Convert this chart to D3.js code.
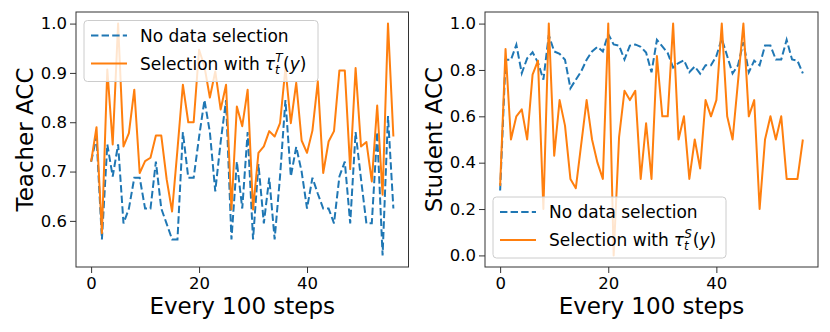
<!DOCTYPE html>
<html>
<head>
<meta charset="utf-8">
<script src="https://cdn.jsdelivr.net/npm/d3@7"></script>
<style>
  body { margin: 0; background: #fff; }
  svg { display: block; font-family: "DejaVu Sans", sans-serif; }
</style>
</head>
<body>
<svg id="chart" width="830" height="332"></svg>
<script>
// checkpoints, one every 100 steps
const xTicks = [0, 20, 40]
const teacherTicks = [0.6, 0.7, 0.8, 0.9, 1.0]
const studentTicks = [0.0, 0.2, 0.4, 0.6, 0.8, 1.0]
const seriesNames = ["No data selection", "Selection with"]

// teacher accuracy
const teacherNoSel = [0.72, 0.77, 0.5625, 0.755, 0.69, 0.755, 0.595, 0.625, 0.6875, 0.6875,
  0.625, 0.625, 0.72, 0.625, 0.594, 0.5625, 0.5625, 0.78, 0.6875, 0.6875,
  0.77, 0.845, 0.78, 0.66, 0.76, 0.845, 0.5625, 0.72, 0.625, 0.78,
  0.5625, 0.715, 0.595, 0.6875, 0.5625, 0.69, 0.845, 0.69, 0.75, 0.70,
  0.625, 0.6875, 0.655, 0.625, 0.625, 0.595, 0.69, 0.72, 0.595, 0.78,
  0.685, 0.595, 0.595, 0.78, 0.53, 0.8125, 0.625]
const teacherSel = [0.72, 0.79, 0.575, 0.907, 0.755, 1.0, 0.751, 0.778, 0.866, 0.697,
  0.721, 0.728, 0.773, 0.773, 0.684, 0.619, 0.745, 0.876, 0.80, 0.80,
  0.947, 0.913, 0.85, 0.903, 0.826, 0.876, 0.623, 0.832, 0.792, 0.866,
  0.623, 0.738, 0.751, 0.782, 0.771, 0.798, 0.910, 0.798, 0.880, 0.763,
  0.738, 0.783, 0.883, 0.697, 0.761, 0.782, 0.905, 0.905, 0.705, 0.910,
  0.751, 0.760, 0.680, 0.834, 0.653, 1.0, 0.771]

// student accuracy
const studentNoSel = [0.28, 0.844, 0.844, 0.909, 0.786, 0.85, 0.876, 0.832, 0.758, 0.95,
  0.88, 0.87, 0.844, 0.721, 0.758, 0.794, 0.844, 0.88, 0.90, 0.88,
  0.955, 0.91, 0.905, 0.845, 0.905, 0.91, 0.90, 0.875, 0.79, 0.93,
  0.902, 0.873, 0.81, 0.83, 0.842, 0.79, 0.815, 0.784, 0.82, 0.82,
  0.86, 0.935, 0.86, 0.785, 0.82, 0.92, 0.79, 0.84, 0.82, 0.905,
  0.905, 0.845, 0.845, 0.93, 0.845, 0.84, 0.785]
const studentSel = [0.30, 0.89, 0.50, 0.60, 0.63, 0.50, 0.78, 0.84, 0.20, 1.0,
  0.43, 0.67, 0.56, 0.33, 0.29, 0.48, 0.67, 0.50, 0.40, 0.33,
  1.0, 0.0, 0.51, 0.71, 0.67, 0.71, 0.33, 0.57, 0.33, 0.86,
  0.60, 0.60, 1.0, 0.50, 0.60, 0.33, 0.50, 0.375, 0.67, 0.60,
  0.67, 1.0, 0.60, 0.50, 0.75, 1.0, 0.60, 0.67, 0.20, 0.50,
  0.60, 0.50, 0.60, 0.33, 0.33, 0.33, 0.50]

const blue = "#1f77b4", orange = "#ff7f0e";
const frameColor = "#333";
const svg = d3.select("#chart");

// pad a domain by 5% like matplotlib does
function padded(ext){
  const p = (ext[1] - ext[0]) * 0.05;
  return [ext[0] - p, ext[1] + p];
}

function drawPanel(cfg){
  const n = cfg.noSel.length;
  const x = d3.scaleLinear().domain(padded([0, n - 1])).range([cfg.left, cfg.right]);
  const allVals = cfg.noSel.concat(cfg.sel);
  const y = d3.scaleLinear().domain(padded(d3.extent(allVals))).range([cfg.bottom, cfg.top]);

  const g = svg.append("g");

  const line = d3.line().x((d, i) => x(i)).y(d => y(d));

  g.append("path")
    .datum(cfg.noSel)
    .attr("d", line)
    .attr("fill", "none")
    .attr("stroke", blue)
    .attr("stroke-width", 2)
    .attr("stroke-dasharray", "7.4,3.2");

  g.append("path")
    .datum(cfg.sel)
    .attr("d", line)
    .attr("fill", "none")
    .attr("stroke", orange)
    .attr("stroke-width", 2)
    .attr("stroke-linejoin", "round");

  // axes
  const xAxis = g.append("g")
    .attr("transform", `translate(0,${cfg.bottom})`)
    .call(d3.axisBottom(x).tickValues(xTicks).tickSize(6).tickPadding(4).tickFormat(d3.format("d")));
  const yAxis = g.append("g")
    .attr("transform", `translate(${cfg.left},0)`)
    .call(d3.axisLeft(y).tickValues(cfg.yTicks).tickSize(6).tickPadding(3).tickFormat(d3.format(".1f")));
  [xAxis, yAxis].forEach(a => {
    a.select(".domain").remove();
    a.selectAll(".tick line").attr("stroke", frameColor).attr("stroke-width", 1);
    a.selectAll(".tick text").attr("fill", "#000").style("font-size", "16.5px").style("font-family", "DejaVu Sans");
  });

  // frame
  g.append("rect")
    .attr("x", cfg.left).attr("y", cfg.top)
    .attr("width", cfg.right - cfg.left).attr("height", cfg.bottom - cfg.top)
    .attr("fill", "none").attr("stroke", frameColor).attr("stroke-width", 1);

  // labels
  g.append("text")
    .attr("x", (cfg.left + cfg.right) / 2).attr("y", 314)
    .attr("text-anchor", "middle")
    .style("font-size", "23px")
    .text("Every 100 steps");
  g.append("text")
    .attr("transform", `translate(${cfg.left - 43},${(cfg.top + cfg.bottom) / 2}) rotate(-90)`)
    .attr("text-anchor", "middle")
    .style("font-size", "23px")
    .text(cfg.ylabel);

  // legend
  const lg = g.append("g").attr("transform", `translate(${cfg.legX},${cfg.legY})`);
  lg.append("rect")
    .attr("width", cfg.legW).attr("height", 61)
    .attr("rx", 3.5)
    .attr("fill", "white").attr("fill-opacity", 0.8)
    .attr("stroke", "#cccccc").attr("stroke-width", 1);
  const rows = [{c: blue, dash: "7.4,3.2", cy: 15}, {c: orange, dash: null, cy: 43}];
  rows.forEach((r, i) => {
    lg.append("line")
      .attr("x1", 7).attr("x2", 43).attr("y1", r.cy).attr("y2", r.cy)
      .attr("stroke", r.c).attr("stroke-width", 2)
      .attr("stroke-dasharray", r.dash);
    const t = lg.append("text")
      .attr("x", 56).attr("y", r.cy + 6)
      .style("font-size", "17px");
    t.append("tspan").text(seriesNames[i]);
    if (i === 1) {
      t.append("tspan").attr("dx", 5).style("font-style", "italic").text("τ");
      t.append("tspan").attr("dy", 4).style("font-size", "12px").style("font-style", "italic").text("t");
      t.append("tspan").attr("dx", -4.6).attr("dy", -12).style("font-size", "12px").style("font-style", "italic").text(cfg.sup);
      t.append("tspan").attr("dx", cfg.sup === "T" ? 0.5 : 1).attr("dy", 8).text("(");
      t.append("tspan").style("font-style", "italic").text("y");
      t.append("tspan").text(")");
    }
  });
}

drawPanel({
  noSel: teacherNoSel, sel: teacherSel, yTicks: teacherTicks,
  left: 76, right: 408.5, top: 12, bottom: 267,
  ylabel: "Teacher ACC", sup: "T",
  legX: 84, legY: 20.5, legW: 234
});
drawPanel({
  noSel: studentNoSel, sel: studentSel, yTicks: studentTicks,
  left: 485, right: 818, top: 12, bottom: 267,
  ylabel: "Student ACC", sup: "S",
  legX: 493, legY: 197, legW: 233
});
</script>
</body>
</html>
